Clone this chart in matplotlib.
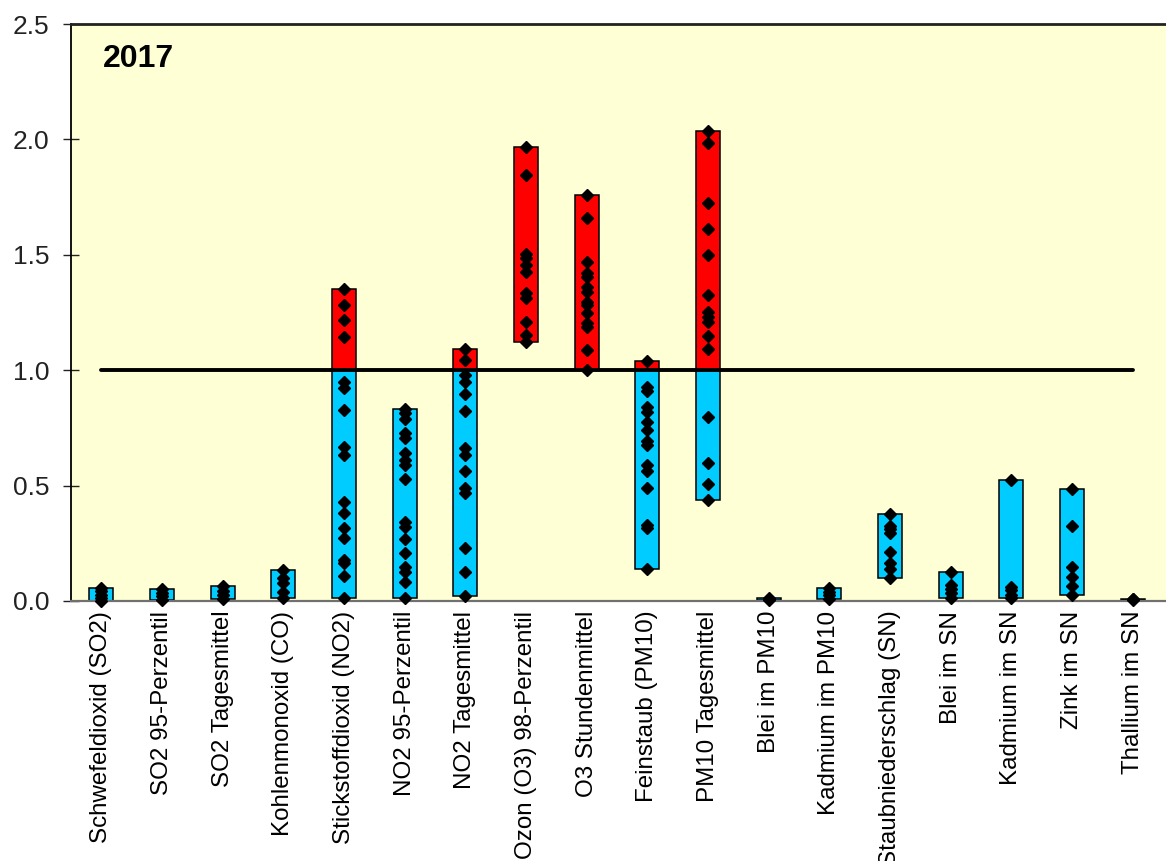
import matplotlib.pyplot as plt
from matplotlib.ticker import FormatStrFormatter

plt.rcParams['font.family'] = ['Liberation Sans', 'DejaVu Sans']

# Ratio of measured value to limit value, one list of station values per parameter
categories = [
    "Schwefeldioxid (SO2)", "SO2 95-Perzentil", "SO2 Tagesmittel",
    "Kohlenmonoxid (CO)", "Stickstoffdioxid (NO2)", "NO2 95-Perzentil",
    "NO2 Tagesmittel", "Ozon (O3) 98-Perzentil", "O3 Stundenmittel",
    "Feinstaub (PM10)", "PM10 Tagesmittel", "Blei im PM10",
    "Kadmium im PM10", "Staubniederschlag (SN)", "Blei im SN",
    "Kadmium im SN", "Zink im SN", "Thallium im SN",
]

so2 = [0.058, 0.045, 0.028, 0.012, 0.002]
so2_p95 = [0.052, 0.035, 0.02, 0.005]
so2_day = [0.066, 0.045, 0.025, 0.01]
co = [0.133, 0.098, 0.08, 0.04, 0.013]
no2 = [1.353, 1.283, 1.217, 1.145, 0.950, 0.921, 0.828, 0.669, 0.633,
       0.430, 0.380, 0.315, 0.272, 0.178, 0.163, 0.108, 0.012]
no2_p95 = [0.830, 0.815, 0.790, 0.727, 0.705, 0.640, 0.611, 0.589, 0.527,
           0.344, 0.322, 0.267, 0.207, 0.149, 0.127, 0.084, 0.012]
no2_day = [1.093, 1.044, 0.979, 0.950, 0.897, 0.823, 0.662, 0.633, 0.563,
           0.488, 0.469, 0.228, 0.127, 0.020]
o3_p98 = [1.968, 1.846, 1.503, 1.485, 1.456, 1.427, 1.333, 1.311, 1.210,
          1.153, 1.124]
o3_hour = [1.759, 1.658, 1.470, 1.420, 1.405, 1.362, 1.340, 1.297, 1.283,
           1.247, 1.203, 1.189, 1.088, 1.000]
pm10 = [1.040, 0.929, 0.911, 0.842, 0.820, 0.777, 0.741, 0.695, 0.676,
        0.589, 0.565, 0.488, 0.329, 0.315, 0.139]
pm10_day = [2.038, 1.986, 1.726, 1.610, 1.499, 1.326, 1.254, 1.232, 1.210,
            1.148, 1.090, 0.796, 0.597, 0.507, 0.438]
pb_pm10 = [0.011, 0.007, 0.004]
cd_pm10 = [0.055, 0.040, 0.026, 0.007]
dust_sn = [0.378, 0.325, 0.310, 0.296, 0.212, 0.166, 0.137, 0.100]
pb_sn = [0.124, 0.069, 0.050, 0.033, 0.012]
cd_sn = [0.524, 0.062, 0.048, 0.026, 0.014]
zn_sn = [0.485, 0.326, 0.149, 0.103, 0.065, 0.026]
tl_sn = [0.010, 0.007, 0.004]

station_values = [so2, so2_p95, so2_day, co, no2, no2_p95, no2_day, o3_p98,
                  o3_hour, pm10, pm10_day, pb_pm10, cd_pm10, dust_sn, pb_sn,
                  cd_sn, zn_sn, tl_sn]

limit = 1.0
year_label = "2017"
y_ticks = [0.0, 0.5, 1.0, 1.5, 2.0, 2.5]

below_color = "#00CCFF"
above_color = "#FF0000"

fig = plt.figure(figsize=(11.66, 8.61), dpi=100)
ax = fig.add_axes([71 / 1166, 260 / 861, 1095 / 1166, 577 / 861])
ax.set_facecolor("#FFFFD5")

bar_w = 0.4
for i, vals in enumerate(station_values):
    lo, hi = min(vals), max(vals)
    if lo < limit:
        top = min(hi, limit)
        ax.bar(i, top - lo, bottom=lo, width=bar_w, color=below_color,
               edgecolor="black", linewidth=1.1, zorder=2)
    if hi > limit:
        base = max(lo, limit)
        ax.bar(i, hi - base, bottom=base, width=bar_w, color=above_color,
               edgecolor="black", linewidth=1.1, zorder=2)
    ax.plot([i] * len(vals), vals, linestyle="none", marker="D",
            markersize=6, color="black", zorder=5, clip_on=False)

# Limit value line
ax.plot([0, len(categories) - 1], [limit, limit], color="black", lw=2.8,
        solid_capstyle="round", zorder=4)

ax.text(0.03, 2.35, year_label, fontsize=23, fontweight="bold",
        ha="left", va="center")

ax.set_xlim(-0.5, 17.55)
ax.set_ylim(0, 2.5)
ax.set_yticks(y_ticks)
ax.yaxis.set_major_formatter(FormatStrFormatter("%.1f"))
ax.tick_params(axis="y", direction="inout", length=11.5, width=1,
               labelsize=19, pad=10, colors="#222222")
ax.set_xticks(range(len(categories)))
ax.set_xticklabels(categories, rotation=90, fontsize=17.4, va="top")
ax.tick_params(axis="x", length=0, pad=7)

ax.spines["right"].set_visible(False)
ax.spines["left"].set_color("black")
ax.spines["left"].set_linewidth(1.3)
ax.spines["top"].set_color("#222222")
ax.spines["top"].set_linewidth(2)
ax.spines["bottom"].set_color("#707070")
ax.spines["bottom"].set_linewidth(1.6)

fig.savefig("out.png", dpi=100)
